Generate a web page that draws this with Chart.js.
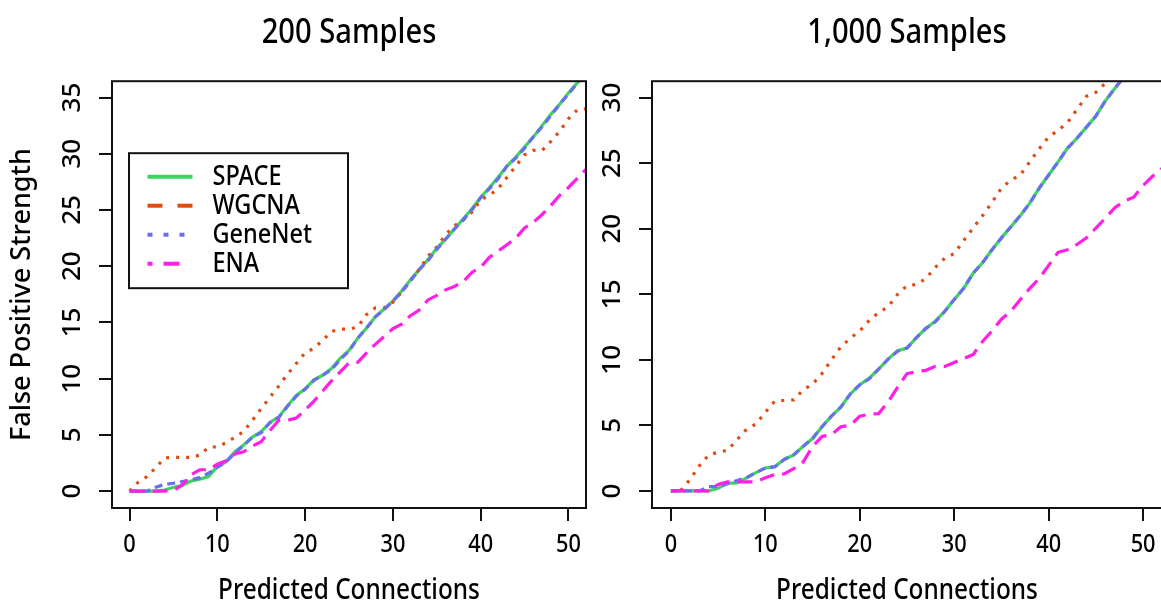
<!DOCTYPE html>
<html>
<head>
<meta charset="utf-8">
<title>False Positive Strength vs Predicted Connections</title>
<script src="https://cdn.jsdelivr.net/npm/chart.js@4.4.1/dist/chart.umd.min.js"></script>
<style>
  html, body { margin: 0; padding: 0; background: #fff; overflow: hidden; }
  #wrap { position: relative; width: 1161px; height: 605px; overflow: hidden; }
  canvas { position: absolute; top: 0; }
  #left { left: 0; }
  #right { left: 600px; }
</style>
</head>
<body>
<div id="wrap">
  <canvas id="left" width="600" height="605"></canvas>
  <canvas id="right" width="580" height="605"></canvas>
</div>
<script>
// x = number of predicted connections
const connections = [0,1,2,3,4,5,6,7,8,9,10,11,12,13,14,15,16,17,18,19,20,21,22,23,24,25,
  26,27,28,29,30,31,32,33,34,35,36,37,38,39,40,41,42,43,44,45,46,47,48,49,50,51,52];
const xTicks = [0, 10, 20, 30, 40, 50];
const yTicks200 = [0, 5, 10, 15, 20, 25, 30, 35];
const yTicks1000 = [0, 5, 10, 15, 20, 25, 30];
const methods = ['SPACE', 'WGCNA', 'GeneNet', 'ENA'];

// 200 samples
const space200 = [0,0,0,0,0.1,0.35,0.5,0.9,1.05,1.3, 2.2,2.6,3.5,4.1,4.8,5.3,6.1,6.6,7.6,8.5,
  9.1,9.9,10.3,10.9,11.8,12.5,13.6,14.5,15.5,16.2, 16.9,17.8,18.8,19.7,20.6,21.6,22.4,23.3,24.2,25.1,
  26.1,27.0,27.9,28.9,29.7,30.6,31.5,32.5,33.5,34.4, 35.4,36.3,37.2];
const wgcna200 = [0,0.8,1.3,2.1,2.95,3.0,3.0,3.0,3.2,3.9, 3.95,4.3,4.8,5.3,6.3,7.35,8.35,9.35,10.4,11.35,
  12.3,12.7,13.4,14.2,14.4,14.4,14.6,15.7,16.3,16.3, 16.8,17.7,18.7,19.7,20.9,21.7,22.8,23.6,24.1,24.8,
  25.9,26.3,26.9,27.9,28.9,29.9,30.3,30.3,31.1,32.0, 33.1,33.9,34.0];
const genenet200 = [0,0,0,0.35,0.6,0.7,0.85,1.0,1.2,1.6, 2.1,2.6,3.4,4.05,4.8,5.2,6.1,6.55,7.55,8.45,
  9.05,9.85,10.3,10.8,11.7,12.45,13.6,14.5,15.5,16.15, 16.9,17.7,18.7,19.7,20.5,21.5,22.4,23.3,24.1,25.0,
  26.1,26.9,27.8,28.9,29.6,30.5,31.5,32.4,33.4,34.4, 35.3,36.3,37.2];
const ena200 = [0,0,0,0,0,0.05,0.55,1.45,1.9,1.9, 2.4,2.7,3.3,3.5,4.0,4.4,5.4,6.3,6.3,6.5,
  7.2,8.0,8.9,9.8,10.6,11.4,11.45,12.3,13.05,13.75, 14.45,14.85,15.6,16.1,17.0,17.4,17.9,18.2,18.6,19.45,
  19.9,20.8,21.35,21.9,22.5,23.4,23.9,24.6,25.4,26.3, 27.0,27.8,28.6];

// 1,000 samples
const space1000 = [0,0,0,0,0,0.2,0.6,0.62,1.0,1.4, 1.75,1.85,2.4,2.75,3.4,4.0,4.9,5.7,6.4,7.4,
  8.1,8.6,9.3,10.05,10.7,10.9,11.7,12.4,12.95,13.7, 14.6,15.45,16.6,17.4,18.4,19.3,20.15,21.0,21.95,23.1,
  24.1,25.1,26.15,26.9,27.75,28.6,29.75,30.7,31.6, null,null,null,null];
const wgcna1000 = [0,0,0.85,1.9,2.75,2.95,3.1,3.9,4.7,5.1, 6.0,6.85,6.9,6.95,7.7,8.15,8.95,10.0,11.0,11.65,
  12.2,13.0,13.6,14.05,15.0,15.65,15.75,16.2,17.05,17.75, 18.1,19.1,20.05,21.0,22.0,23.1,23.7,24.1,25.1,26.1,
  27.0,27.5,28.1,29.1,30.1,30.4,31.1,32.0, null,null,null,null,null];
const genenet1000 = [0,0,0,0,0.33,0.33,0.55,0.8,1.0,1.4, 1.75,1.85,2.4,2.75,3.4,4.0,4.9,5.7,6.4,7.4,
  8.1,8.55,9.3,10.05,10.65,10.9,11.7,12.4,12.9,13.7, 14.6,15.45,16.6,17.4,18.4,19.3,20.15,21.0,21.95,23.1,
  24.1,25.1,26.15,26.9,27.75,28.6,29.75,30.7,31.6, null,null,null,null];
const ena1000 = [0,0,0,0,0,0.5,0.7,0.7,0.7,0.7, 1.0,1.25,1.3,1.7,2.2,3.4,4.15,4.3,4.9,5.0,
  5.7,5.85,5.9,6.8,7.9,8.95,9.1,9.2,9.5,9.5, 9.8,10.1,10.4,11.4,12.2,13.1,13.7,14.6,15.45,16.2,
  17.2,18.2,18.4,18.8,19.3,20.05,20.8,21.6,22.1,22.4, 23.3,24.0,24.6];

const FONT = '"Noto Sans", "Open Sans", sans-serif';
const WEIGHT = '500';
const SQUEEZE = 0.87;   // horizontal text in the original is narrower than Noto Sans
const INK = '#111';

// line look per method
const styles = {
  SPACE:   { color: '#3DD35F', dash: [],      legendDash: [],               order: 4 },
  WGCNA:   { color: '#E14B12', dash: [3, 7],  legendDash: [15, 15],         order: 3 },
  GeneNet: { color: '#6A6FF0', dash: [8, 5],  legendDash: [5, 11],          order: 2 },
  ENA:     { color: '#FF1FE6', dash: [15, 8], legendDash: [5, 11, 16, 40],  order: 1 }
};

// narrows upright text a little; rotated (y axis) text is left alone
const squeezePlugin = {
  id: 'squeeze',
  beforeInit(chart) {
    const ctx = chart.ctx;
    const native = ctx.fillText;
    ctx.fillText = function (text, x, y, maxWidth) {
      const m = ctx.getTransform();
      if (Math.abs(m.b) > 1e-6) {
        return maxWidth === undefined ? native.call(ctx, text, x, y) : native.call(ctx, text, x, y, maxWidth);
      }
      ctx.save();
      ctx.translate(x, y);
      ctx.scale(SQUEEZE, 1);
      if (maxWidth === undefined) native.call(ctx, text, 0, 0);
      else native.call(ctx, text, 0, 0, maxWidth / SQUEEZE);
      ctx.restore();
    };
  }
};

const framePlugin = {
  id: 'frame',
  afterDatasetsDraw(chart) {
    const { ctx, chartArea: a } = chart;
    ctx.save();
    ctx.strokeStyle = INK;
    ctx.lineWidth = 2;
    ctx.strokeRect(a.left, a.top, a.right - a.left, a.bottom - a.top);
    ctx.restore();
  }
};

const insetLegend = {
  id: 'insetLegend',
  afterDraw(chart) {
    const { ctx, chartArea: a } = chart;
    const x0 = a.left + 17, y0 = a.top + 72, w = 219, h = 135;
    ctx.save();
    ctx.fillStyle = '#fff';
    ctx.fillRect(x0, y0, w, h);
    ctx.strokeStyle = INK;
    ctx.lineWidth = 2;
    ctx.strokeRect(x0, y0, w, h);
    chart.data.datasets.forEach((ds, i) => {
      const y = y0 + 23.5 + i * 29;
      ctx.beginPath();
      ctx.setLineDash(styles[ds.label].legendDash);
      ctx.lineWidth = 4;
      ctx.strokeStyle = ds.borderColor;
      ctx.moveTo(x0 + 18.5, y);
      ctx.lineTo(x0 + 63.5, y);
      ctx.stroke();
      ctx.setLineDash([]);
      ctx.fillStyle = '#000';
      ctx.font = WEIGHT + ' 27px ' + FONT;
      ctx.textBaseline = 'middle';
      ctx.fillText(ds.label, x0 + 83.5, y + 1);
    });
    ctx.restore();
  }
};

function makeChart(id, title, series, yTicks, yMin, yMax, yTitle, yWidth, rightPad, withLegend) {
  const datasets = methods.map((m, i) => ({
    label: m,
    data: connections.map((x, j) => ({ x: x, y: series[i][j] })),
    borderColor: styles[m].color,
    borderDash: styles[m].dash,
    borderWidth: 3.2,
    borderCapStyle: 'butt',
    pointRadius: 0,
    tension: 0,
    fill: false,
    order: styles[m].order
  }));

  const tickGrid = {
    drawOnChartArea: false,
    drawTicks: true,
    tickLength: 13,
    lineWidth: 2,
    color: INK
  };

  const plugins = [squeezePlugin, framePlugin];
  if (withLegend) plugins.push(insetLegend);

  return new Chart(document.getElementById(id), {
    type: 'line',
    data: { datasets: datasets },
    plugins: plugins,
    options: {
      responsive: false,
      animation: false,
      devicePixelRatio: 1,
      layout: { padding: { left: 0, right: rightPad, top: 0, bottom: 0 } },
      scales: {
        x: {
          type: 'linear',
          min: -2,
          max: 52,
          afterBuildTicks: s => { s.ticks = xTicks.map(v => ({ value: v })); },
          afterFit: s => { s.height = 97; },
          ticks: { color: '#000', font: { family: FONT, size: 25, weight: WEIGHT }, padding: 9, maxRotation: 0 },
          grid: tickGrid,
          border: { display: false },
          title: {
            display: true,
            text: 'Predicted Connections',
            color: '#000',
            font: { family: FONT, size: 28, weight: WEIGHT, lineHeight: 1 },
            padding: { top: 0, bottom: 0 }
          }
        },
        y: {
          type: 'linear',
          min: yMin,
          max: yMax,
          afterBuildTicks: s => { s.ticks = yTicks.map(v => ({ value: v })); },
          afterFit: s => { s.width = yWidth; },
          ticks: {
            color: '#000',
            font: { family: FONT, size: 26, weight: WEIGHT },
            padding: 12,
            minRotation: 90,
            maxRotation: 90,
            crossAlign: 'center'
          },
          grid: tickGrid,
          border: { display: false },
          title: {
            display: !!yTitle,
            text: yTitle || '',
            color: '#000',
            font: { family: FONT, size: 27, weight: WEIGHT },
            padding: { top: 6, bottom: 0 }
          }
        }
      },
      plugins: {
        legend: { display: false },
        tooltip: { enabled: false },
        title: {
          display: true,
          text: title,
          fullSize: false,
          color: '#000',
          font: { family: FONT, size: 33.5, weight: WEIGHT },
          padding: { top: 13, bottom: 28 }
        }
      }
    }
  });
}

makeChart('left', '200 Samples', [space200, wgcna200, genenet200, ena200],
  yTicks200, -1.5, 36.45, 'False Positive Strength', 112, 14, true);
makeChart('right', '1,000 Samples', [space1000, wgcna1000, genenet1000, ena1000],
  yTicks1000, -1.3, 31.25, null, 52, 18, false);
</script>
</body>
</html>
